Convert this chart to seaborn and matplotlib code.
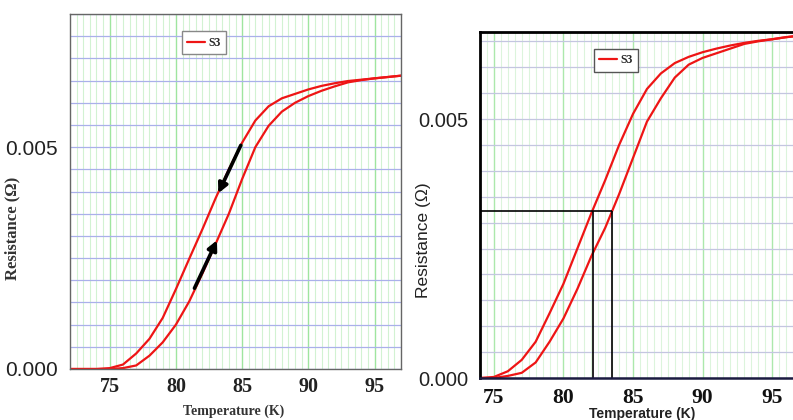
import numpy as np
import pandas as pd
import seaborn as sns
import matplotlib.pyplot as plt
from matplotlib.ticker import MultipleLocator, FormatStrFormatter

# ---- data ----
temp = [72, 74, 75, 76, 77, 78, 79, 80, 81, 82, 83, 84, 85, 86, 87, 88,
        89, 90, 91, 92, 93, 94, 95, 96, 97]

# left panel (with arrows)
left_cool = [0.0, 0.0, 0.00002, 0.00010, 0.00035, 0.00068, 0.00115, 0.00180,
             0.00248, 0.00315, 0.00385, 0.00450, 0.00510, 0.00560, 0.00592,
             0.00610, 0.00620, 0.00630, 0.00638, 0.00644, 0.00649, 0.00652,
             0.00655, 0.00658, 0.00661]
left_warm = [0.0, 0.0, 0.0, 0.00002, 0.00008, 0.00030, 0.00060, 0.00100,
             0.00152, 0.00215, 0.00282, 0.00350, 0.00428, 0.00500, 0.00548,
             0.00580, 0.00600, 0.00615, 0.00627, 0.00637, 0.00646, 0.00651,
             0.00655, 0.00658, 0.00661]

# right panel (with guide lines)
right_cool = [0.0, 0.0, 0.00002, 0.00013, 0.00035, 0.00070, 0.00125, 0.00182,
              0.00250, 0.00318, 0.00382, 0.00450, 0.00510, 0.00558, 0.00588,
              0.00608, 0.00620, 0.00629, 0.00636, 0.00642, 0.00647, 0.00651,
              0.00654, 0.00658, 0.00661]
right_warm = [0.0, 0.0, 0.0, 0.00004, 0.00010, 0.00030, 0.00070, 0.00115,
              0.00172, 0.00235, 0.00290, 0.00355, 0.00425, 0.00495, 0.00540,
              0.00580, 0.00605, 0.00618, 0.00627, 0.00636, 0.00645, 0.00650,
              0.00654, 0.00658, 0.00661]

# arrows on left panel: (start, end)
arrow_down = [(84.9, 0.00504), (83.2, 0.00396)]
arrow_up = [(81.4, 0.00182), (83.1, 0.00290)]

# guide lines on right panel
r_cross = 0.00322
t_cool_cross = 82.15
t_warm_cross = 83.5

xticks = [75, 80, 85, 90, 95]
yticks = [0.000, 0.005]
series_name = "S3"

sns.set_style("white")
plt.rcParams['font.family'] = ['Liberation Sans', 'DejaVu Sans']

red = '#ee1515'
fig = plt.figure(figsize=(7.93, 4.2), dpi=100)
ax1 = fig.add_axes([70 / 793, 51 / 420, 331 / 793, 355 / 420])
ax2 = fig.add_axes([480 / 793, 42 / 420, 320 / 793, 346 / 420])


def draw(ax, cool, warm, xlim, ylim, gmaj, gmin, gy):
    df = pd.DataFrame({'T': temp + temp, 'R': cool + warm,
                       'branch': ['cool'] * len(temp) + ['warm'] * len(temp)})
    sns.lineplot(data=df[df.branch == 'cool'], x='T', y='R', ax=ax, color=red,
                 lw=1.6, sort=False, label=series_name)
    sns.lineplot(data=df[df.branch == 'warm'], x='T', y='R', ax=ax, color=red,
                 lw=1.6, sort=False)
    ax.set_xlim(*xlim)
    ax.set_ylim(*ylim)
    ax.xaxis.set_major_locator(MultipleLocator(5))
    ax.xaxis.set_minor_locator(MultipleLocator(0.5))
    ax.set_xticks(xticks)
    ax.set_yticks(yticks)
    ax.yaxis.set_minor_locator(MultipleLocator(0.0005))
    ax.yaxis.set_major_formatter(FormatStrFormatter('%.3f'))
    ax.grid(which='major', axis='x', color=gmaj, lw=1.0)
    ax.grid(which='minor', axis='x', color=gmin, lw=0.8)
    ax.grid(which='both', axis='y', color=gy, lw=0.9)
    ax.set_axisbelow(True)
    for lab in ax.get_xticklabels():
        lab.set_fontfamily('Liberation Serif')
        lab.set_fontweight('bold')


# ---- left panel ----
draw(ax1, left_cool, left_warm, (72, 97), (0, 0.008),
     '#9fe59f', '#d2f2d2', '#aab0ea')
for lab in ax1.get_xticklabels():
    lab.set_fontsize(14.5)
ax1.tick_params(axis='y', which='major', labelsize=15, length=5, width=1,
                colors='#333333', labelcolor='#222222')
ax1.tick_params(axis='y', which='minor', length=3, width=0.8, colors='#444444')
ax1.tick_params(axis='x', which='both', length=0, pad=6, labelcolor='#222222')
for side in ['left', 'top', 'right', 'bottom']:
    ax1.spines[side].set_color('#666666')
    ax1.spines[side].set_linewidth(1.0)
ax1.set_xlabel('Temperature (K)', fontfamily='Liberation Serif',
               fontweight='bold', fontsize=10, color='#333333')
ax1.xaxis.set_label_coords(0.495, -0.10)
ax1.set_ylabel('Resistance (Ω)', fontfamily='Liberation Serif',
               fontweight='bold', fontsize=12, color='#333333')
ax1.yaxis.set_label_coords(-0.151, 0.397)
for a in (arrow_down, arrow_up):
    ax1.annotate('', xy=a[1], xytext=a[0],
                 arrowprops=dict(arrowstyle='-|>', color='black', lw=2.6,
                                 mutation_scale=14, shrinkA=0, shrinkB=0))
leg = ax1.legend(loc='upper left', bbox_to_anchor=(0.338, 0.951), frameon=True,
                 fancybox=False, edgecolor='#888888', framealpha=1,
                 handlelength=1.5, handletextpad=0.3, borderpad=0.45,
                 borderaxespad=0, prop=dict(family='Liberation Serif',
                                            weight='bold', size=8.5))
leg.get_frame().set_linewidth(1.0)

# ---- right panel ----
draw(ax2, right_cool, right_warm, (74, 97), (0, 0.00668),
     '#ace8ac', '#dcf4dc', '#c4c6e0')
for lab in ax2.get_xticklabels():
    lab.set_fontsize(15.5)
ax2.hlines(r_cross, 74, t_warm_cross, color='black', lw=1.2)
ax2.vlines([t_cool_cross, t_warm_cross], 0, r_cross, color='black', lw=1.2)
ax2.tick_params(axis='y', which='major', labelsize=14.5, length=5, width=1.2,
                colors='#111111', labelcolor='#222222')
ax2.tick_params(axis='y', which='minor', length=3, width=1, colors='#222222')
ax2.tick_params(axis='x', which='major', length=4, width=1, pad=3,
                colors='#1a1a40', labelcolor='#111111')
ax2.tick_params(axis='x', which='minor', length=2.5, width=0.8, direction='in',
                colors='#1a1a40')
for side in ['left', 'top']:
    ax2.spines[side].set_color('black')
    ax2.spines[side].set_linewidth(2.0)
ax2.spines['bottom'].set_color('#1a1a40')
ax2.spines['bottom'].set_linewidth(1.8)
ax2.spines['right'].set_visible(False)
ax2.set_xlabel('Temperature (K)', fontweight='bold', fontsize=10,
               color='#222222')
ax2.xaxis.set_label_coords(0.507, -0.085)
ax2.set_ylabel('Resistance (Ω)', fontsize=12.5, color='#222222')
ax2.yaxis.set_label_coords(-0.153, 0.399)
leg2 = ax2.legend(loc='upper left', bbox_to_anchor=(0.355, 0.951), frameon=True,
                  fancybox=False, edgecolor='#555555', framealpha=1,
                  handlelength=1.5, handletextpad=0.3, borderpad=0.45,
                  borderaxespad=0, prop=dict(family='Liberation Serif',
                                             weight='bold', size=8.5))
leg2.get_frame().set_linewidth(1.0)

fig.savefig('out.png', dpi=100)
